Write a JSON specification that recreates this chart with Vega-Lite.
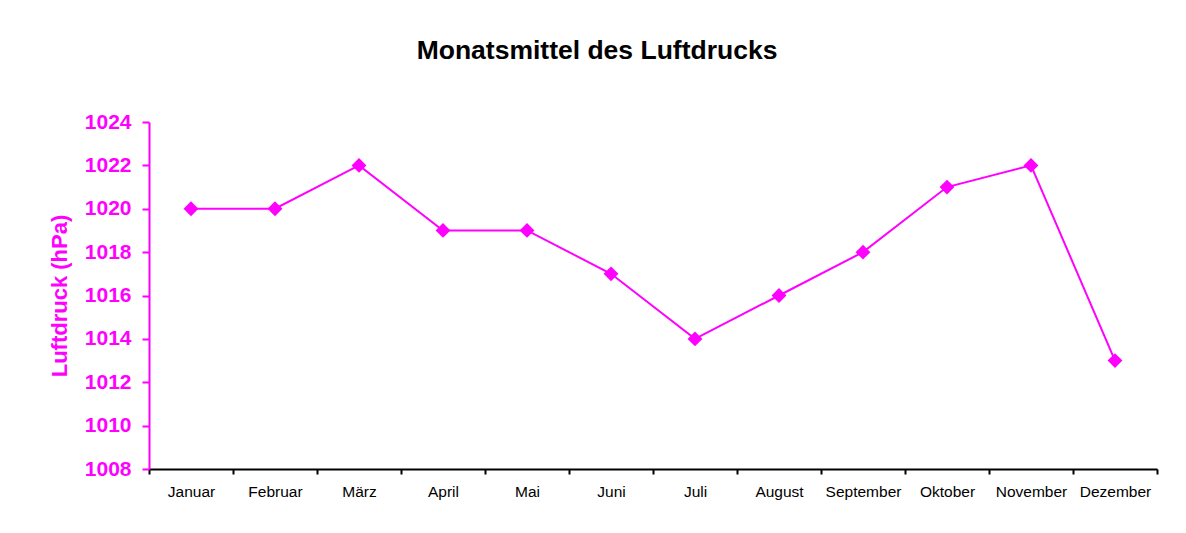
{
  "$schema": "https://vega.github.io/schema/vega-lite/v6.json",
  "width": 1008,
  "height": 347,
  "autosize": {"type": "none"},
  "padding": {"left": 149, "top": 122, "right": 29, "bottom": 64},
  "background": "white",
  "title": {
    "text": "Monatsmittel des Luftdrucks",
    "font": "Liberation Sans",
    "fontSize": 26.5,
    "fontWeight": "bold",
    "color": "black",
    "anchor": "middle",
    "dx": -56,
    "offset": 47
  },
  "data": {
    "values": [
      {"Monat": "Januar", "Luftdruck": 1020},
      {"Monat": "Februar", "Luftdruck": 1020},
      {"Monat": "März", "Luftdruck": 1022},
      {"Monat": "April", "Luftdruck": 1019},
      {"Monat": "Mai", "Luftdruck": 1019},
      {"Monat": "Juni", "Luftdruck": 1017},
      {"Monat": "Juli", "Luftdruck": 1014},
      {"Monat": "August", "Luftdruck": 1016},
      {"Monat": "September", "Luftdruck": 1018},
      {"Monat": "Oktober", "Luftdruck": 1021},
      {"Monat": "November", "Luftdruck": 1022},
      {"Monat": "Dezember", "Luftdruck": 1013}
    ]
  },
  "mark": {
    "type": "line",
    "color": "#FF00FF",
    "strokeWidth": 2,
    "point": {"shape": "diamond", "size": 220, "filled": true, "color": "#FF00FF", "opacity": 1}
  },
  "encoding": {
    "x": {
      "field": "Monat",
      "type": "ordinal",
      "sort": null,
      "scale": {"paddingInner": 0, "paddingOuter": 0, "padding": 0},
      "axis": {
        "title": null,
        "labelAngle": 0,
        "labelFont": "Liberation Sans",
        "labelFontSize": 15.5,
        "labelColor": "black",
        "labelPadding": 10,
        "tickBand": "extent",
        "tickSize": 5,
        "tickWidth": 2,
        "tickColor": "black",
        "domainColor": "black",
        "domainWidth": 2,
        "grid": false
      }
    },
    "y": {
      "field": "Luftdruck",
      "type": "quantitative",
      "scale": {"domain": [1008, 1024], "zero": false, "nice": false},
      "axis": {
        "title": "Luftdruck (hPa)",
        "titleFont": "Liberation Sans",
        "titleFontSize": 22,
        "titleFontWeight": "bold",
        "titleColor": "#FF00FF",
        "titlePadding": 13,
        "values": [1008, 1010, 1012, 1014, 1016, 1018, 1020, 1022, 1024],
        "format": "d",
        "labelFont": "Liberation Sans",
        "labelFontSize": 21,
        "labelFontWeight": "bold",
        "labelColor": "#FF00FF",
        "labelPadding": 11,
        "tickSize": 7,
        "tickWidth": 2,
        "tickColor": "#FF00FF",
        "domainColor": "#FF00FF",
        "domainWidth": 2,
        "grid": false
      }
    }
  },
  "config": {
    "view": {"stroke": null}
  }
}
